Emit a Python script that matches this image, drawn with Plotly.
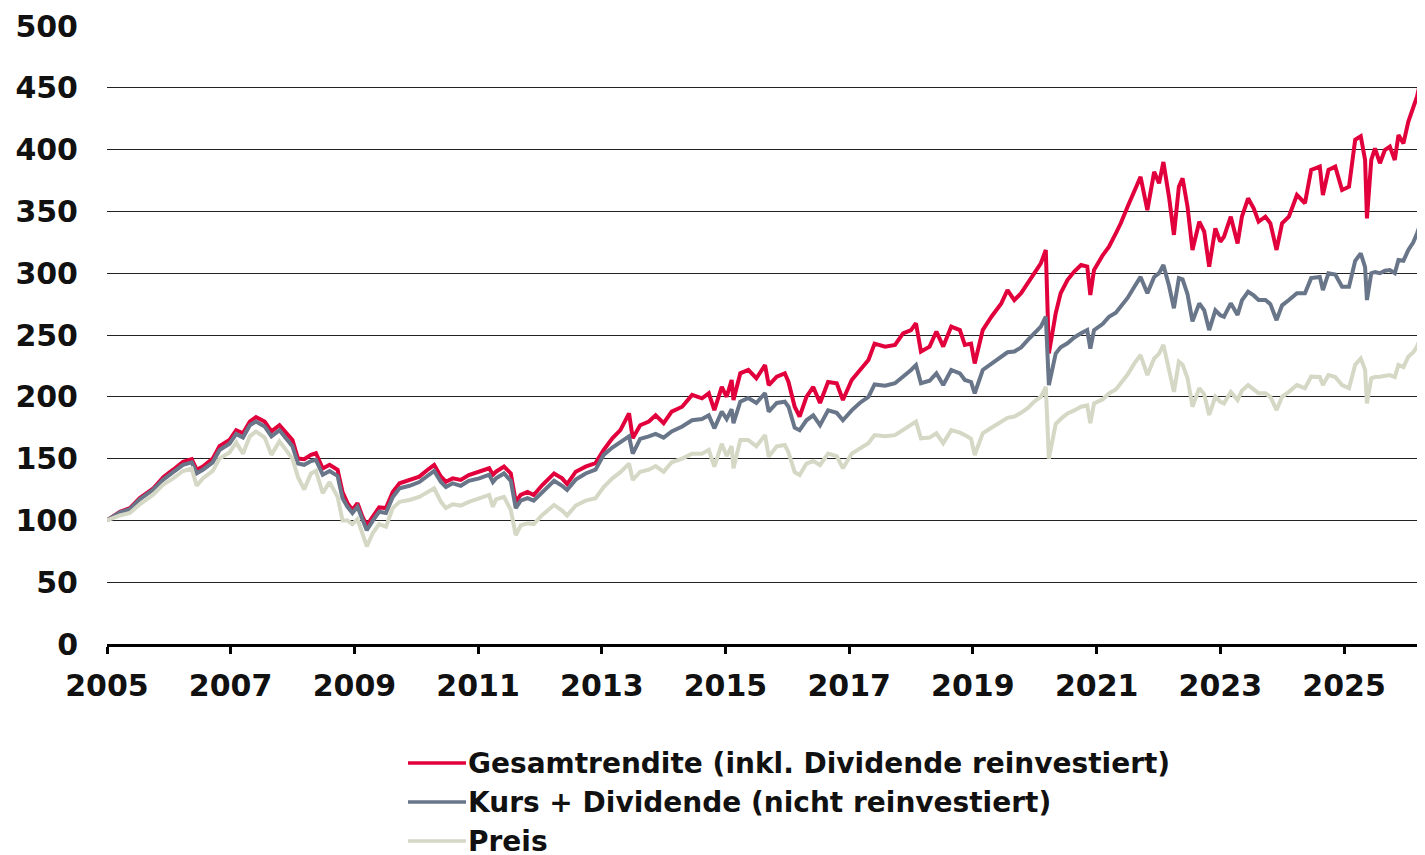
import plotly.graph_objects as go
import pandas as pd

# decimal-year positions
t_dec = [
    2005.00, 2005.21, 2005.37, 2005.53, 2005.75, 2005.91, 2006.07, 2006.23, 2006.37, 2006.45,
    2006.55, 2006.71, 2006.82, 2006.98, 2007.09, 2007.20, 2007.31, 2007.41, 2007.55, 2007.66,
    2007.79, 2007.90, 2008.00, 2008.09, 2008.19, 2008.30, 2008.38, 2008.49, 2008.60, 2008.73,
    2008.81, 2008.89, 2008.97, 2009.05, 2009.13, 2009.20, 2009.30, 2009.40, 2009.51, 2009.62,
    2009.73, 2009.89, 2010.05, 2010.18, 2010.29, 2010.40, 2010.48, 2010.59, 2010.72, 2010.85,
    2011.02, 2011.18, 2011.24, 2011.29, 2011.42, 2011.53, 2011.61, 2011.69, 2011.80, 2011.90,
    2012.04, 2012.23, 2012.36, 2012.44, 2012.58, 2012.74, 2012.90, 2013.03, 2013.17, 2013.30,
    2013.44, 2013.50, 2013.62, 2013.76, 2013.87, 2014.00, 2014.13, 2014.30, 2014.46, 2014.62,
    2014.73, 2014.82, 2014.94, 2015.02, 2015.10, 2015.13, 2015.24, 2015.37, 2015.50, 2015.64,
    2015.70, 2015.83, 2015.96, 2016.02, 2016.12, 2016.20, 2016.31, 2016.42, 2016.53, 2016.66,
    2016.80, 2016.90, 2017.04, 2017.17, 2017.31, 2017.41, 2017.58, 2017.74, 2017.87, 2018.00,
    2018.08, 2018.16, 2018.30, 2018.41, 2018.52, 2018.65, 2018.79, 2018.87, 2018.97, 2019.03,
    2019.16, 2019.30, 2019.46, 2019.56, 2019.67, 2019.78, 2019.89, 2019.99, 2020.10, 2020.18,
    2020.23, 2020.34, 2020.42, 2020.53, 2020.64, 2020.75, 2020.85, 2020.90, 2020.96, 2021.10,
    2021.20, 2021.31, 2021.39, 2021.50, 2021.61, 2021.71, 2021.82, 2021.93, 2022.01, 2022.08,
    2022.17, 2022.25, 2022.33, 2022.39, 2022.47, 2022.55, 2022.66, 2022.74, 2022.82, 2022.92,
    2023.00, 2023.06, 2023.17, 2023.28, 2023.35, 2023.45, 2023.54, 2023.62, 2023.73, 2023.81,
    2023.91, 2024.00, 2024.11, 2024.24, 2024.37, 2024.47, 2024.61, 2024.66, 2024.75, 2024.86,
    2024.97, 2025.08, 2025.18, 2025.27, 2025.34, 2025.37, 2025.44, 2025.50, 2025.58, 2025.66,
    2025.74, 2025.82, 2025.88, 2025.96, 2026.04, 2026.12, 2026.18, 2026.24,
]

gesamtrendite = [
    100, 107, 110, 118, 126, 135, 141, 147.5, 149.5, 141,
    143.5, 150, 160, 165, 173, 170.5, 180, 183.5, 180, 172,
    177, 170.5, 165, 150, 149.5, 153, 154.3, 142, 145, 141,
    123, 114, 108.5, 114, 103, 96, 103, 110.5, 110, 123,
    130, 132.7, 135.4, 140.8, 144.8, 135.4, 131.3, 134, 132.7, 136.7,
    139.4, 142.2, 137, 139.4, 143.5, 138, 115, 120.6, 123, 120.6,
    128.6, 138, 134, 129.4, 139.4, 143.5, 146.3, 157, 166.4, 173,
    186.6, 166.4, 177, 180, 185, 178.6, 188, 192, 201.5, 198.8,
    202.8, 189.3, 208, 200, 213.6, 197.4, 219, 221.7, 215, 225.7,
    209.5, 216.3, 219, 212, 192, 184, 200, 208, 195, 212,
    211, 197.4, 213.6, 221.7, 229.8, 243, 240.6, 242, 251.4, 254,
    259.5, 236.6, 240.6, 252.8, 240.6, 256.8, 254, 242, 243, 227,
    254, 264.8, 275.6, 286.4, 278.3, 283.8, 291.8, 300, 308, 318.8,
    235, 267.5, 283.8, 294.5, 301.3, 306.6, 305.3, 282.4, 302.6, 314.7,
    321.4, 332.2, 340.4, 353.8, 367.3, 378, 351, 382, 372.7, 390,
    362, 331, 370, 376.8, 353.8, 318.8, 341.7, 333.6, 305.3, 336.3,
    325.5, 329.5, 345.7, 324, 345.7, 360.6, 352.5, 341.7, 345.7, 340.4,
    318.8, 340.4, 345.7, 363.3, 356.6, 383.5, 386.2, 363.3, 383.5, 386.2,
    367.3, 370, 408, 410.8, 391.6, 344.4, 391.6, 401, 389, 399.7,
    402.4, 391.6, 411.8, 405, 422.6, 434.7, 442.9, 456.3,
]

kurs_dividende = [
    100, 106.5, 109, 117, 125, 133, 139, 145, 147, 138,
    141, 147, 157, 162, 170, 167, 177, 180, 176, 168,
    173, 166, 160, 146, 145, 148, 149, 137, 140, 136,
    118, 111, 106, 111, 100, 92, 100, 107, 106, 119,
    126, 128, 131, 136, 140, 131, 127, 130, 128, 132,
    134, 137, 131, 134, 138, 132, 110, 116, 118, 116,
    123, 132, 128, 124.6, 133, 138, 141, 153, 159, 163,
    168, 154, 166, 168, 170, 167, 172, 176, 181, 182,
    185, 174.5, 188, 182, 190, 178.6, 196, 199, 195, 203,
    188, 195, 196, 192, 175, 173, 181, 185, 177, 189,
    187, 181, 189, 195, 200, 210, 209, 211, 216, 221.7,
    225.7, 211, 213, 219, 209.5, 221.7, 219, 213.6, 212, 202.8,
    221.7, 227, 232.5, 236, 236.6, 240, 246, 251, 256.8, 264.8,
    209.5, 235, 240, 243.3, 248, 251.4, 254, 239, 254, 259,
    264.8, 268, 273, 280, 289, 297, 283.8, 297, 300, 306.6,
    290, 271.6, 296, 295, 283, 261, 275.6, 270, 254, 270,
    266, 264.8, 275.6, 266.2, 278, 285, 282, 278.3, 278.3, 275,
    262, 274, 278.3, 283.8, 283.8, 296, 297, 286.4, 300, 299,
    289, 289, 310, 316, 305, 278.3, 300, 301, 300, 302,
    302.6, 300, 310.7, 310, 318.8, 325, 332.2, 340.4,
]

preis = [
    100, 104, 106, 113, 121, 129, 134, 140, 142, 128,
    134, 140, 150, 155, 163, 154, 168, 172, 167, 153,
    164, 156, 150, 135, 125, 138, 140, 122, 131, 119,
    100, 100, 97, 101, 90, 79, 90, 97, 95, 110,
    115, 116.5, 119, 123, 126, 115, 110, 113, 112, 115,
    118, 120.6, 111, 117, 119, 108.4, 88, 96, 97.6, 97,
    104.4, 112.5, 108, 104, 112, 116, 118, 127, 134, 139,
    146, 132.7, 139.4, 141, 144, 139.4, 147, 150, 154, 154,
    157, 143.5, 162, 152, 160, 142.2, 165, 165, 160, 169,
    151.6, 160, 161, 155, 139, 136.7, 146, 148, 144.8, 154,
    152, 142.2, 154, 158, 162.4, 169, 168, 169, 173, 177,
    180, 166.4, 167, 170.5, 162.4, 173, 171, 169, 166, 152.9,
    170.5, 175, 180, 183, 184, 187, 191, 196, 200, 208,
    150, 178, 182, 186.6, 189, 192, 193, 178.6, 194.7, 198,
    202.8, 206, 211, 218, 227, 233.8, 217.6, 231, 235, 242,
    222, 204, 228.4, 226, 215, 192, 207, 202, 185.3, 200,
    196, 194.7, 204, 197.4, 205, 209.5, 206, 202.8, 202.8, 200,
    189.3, 200, 204, 209.5, 207, 216.3, 216, 209.5, 217.6, 216,
    209.5, 207, 226, 231, 222, 194.7, 215, 216, 216.3, 217,
    217.6, 216, 225.7, 224, 232.5, 236, 240.6, 248.7,
]

series_names = [
    "Gesamtrendite (inkl. Dividende reinvestiert)",
    "Kurs + Dividende (nicht reinvestiert)",
    "Preis",
]
series_colors = ["#E2003C", "#697689", "#D4D8C5"]
y_ticks = [0, 50, 100, 150, 200, 250, 300, 350, 400, 450, 500]
x_tick_years = [2005, 2007, 2009, 2011, 2013, 2015, 2017, 2019, 2021, 2023, 2025]


def to_date(d):
    year = int(d)
    start = pd.Timestamp(year=year, month=1, day=1)
    return start + pd.Timedelta(days=(d - year) * 365.25)


dates = [to_date(d) for d in t_dec]

FONT = "DejaVu Sans"
TXT = "#111111"

fig = go.Figure()
for name, vals, col in zip(series_names, [gesamtrendite, kurs_dividende, preis], series_colors):
    fig.add_trace(go.Scatter(
        x=dates, y=vals, mode="lines", name=name,
        line=dict(color=col, width=4), showlegend=False,
    ))

# plot area spans 1310 px horizontally, 618 px vertically
PW, PH = 1310.0, 618.0


def px_x(px):
    return (px - 107) / PW


def px_y(py):
    return (644 - py) / PH


# legend drawn below the plot (long legend keys as in the original)
legend_rows_px = [763, 802, 841]
for name, col, ry in zip(series_names, series_colors, legend_rows_px):
    ly = px_y(ry)
    fig.add_shape(type="line", xref="paper", yref="paper",
                  x0=px_x(408), x1=px_x(466), y0=ly, y1=ly,
                  line=dict(color=col, width=3.5))
    fig.add_annotation(xref="paper", yref="paper", x=px_x(467), y=ly,
                       xanchor="left", yanchor="middle", showarrow=False,
                       text=name, borderpad=0,
                       font=dict(family=FONT, size=28, color=TXT, weight=700))

fig.update_layout(
    width=1409, height=847,
    margin=dict(l=99, r=0, t=18, b=211, autoexpand=False),
    paper_bgcolor="white", plot_bgcolor="white",
    font=dict(family=FONT, color=TXT, size=28, weight=700),
    showlegend=False,
)
fig.update_xaxes(
    type="date", automargin=False,
    range=[to_date(2005.0), to_date(2026.18)],
    tickvals=[to_date(y) for y in x_tick_years],
    ticktext=[str(y) for y in x_tick_years],
    showgrid=False, zeroline=False,
    showline=True, linecolor="#000000", linewidth=2.5,
    ticks="outside", ticklen=7, tickwidth=2.5, tickcolor="#000000",
    tickfont=dict(family=FONT, size=30, color=TXT, weight=700),
    ticklabelstandoff=6,
)
fig.update_yaxes(
    range=[0, 500], automargin=False,
    tickvals=y_ticks,
    showgrid=True, gridcolor="#222222", gridwidth=1,
    zeroline=False, showline=False, ticks="",
    tickfont=dict(family=FONT, size=30, color=TXT, weight=700),
    ticklabelstandoff=28,
)

fig.write_html("out.html")
